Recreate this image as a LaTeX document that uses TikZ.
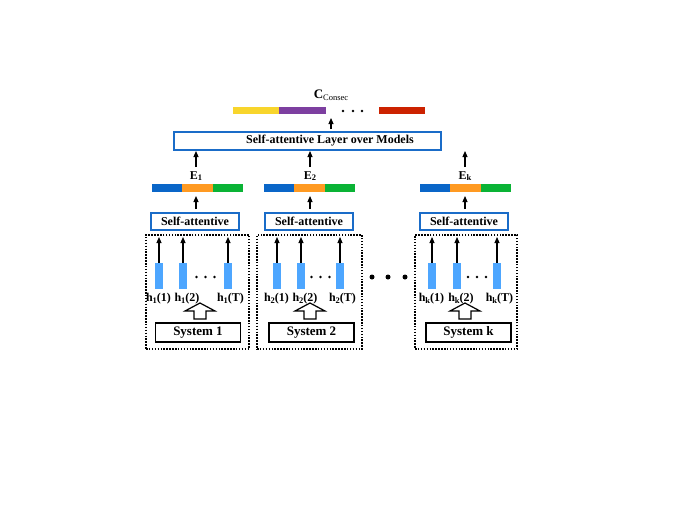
\documentclass[tikz,border=0pt]{standalone}
\usepackage{fontspec}
\setmainfont{Liberation Serif}
\usetikzlibrary{arrows.meta}
\definecolor{boxblue}{HTML}{1A6CC8}
\definecolor{segblue}{HTML}{0A66C8}
\definecolor{segorange}{HTML}{FF9A22}
\definecolor{seggreen}{HTML}{0AB335}
\definecolor{segyellow}{HTML}{F8D52C}
\definecolor{segpurple}{HTML}{7D3FA0}
\definecolor{segred}{HTML}{CC2200}
\definecolor{hblue}{HTML}{4DA6FF}
\newcommand\lsub[1]{\raisebox{-1.6pt}{\fontsize{8.5}{10}\selectfont #1}}
\begin{document}
\begin{tikzpicture}[x=1pt,y=-1pt,
  sabox/.style={draw=boxblue,line width=1.8pt,inner sep=0pt,minimum width=88pt,minimum height=17pt,font=\bfseries\fontsize{12}{14}\selectfont},
  bigbox/.style={draw=boxblue,line width=1.8pt,inner sep=0pt,minimum width=267pt,minimum height=18pt},
  sysbox/.style={draw,line width=1.1pt,inner sep=0pt,minimum width=85pt,minimum height=19pt,font=\bfseries\fontsize{13}{15}\selectfont},
  dotbox/.style={draw,line width=1.5pt,dash pattern=on 1.5pt off 1.4pt,inner sep=0pt,minimum height=114pt},
  seg/.style={inner sep=0pt,minimum width=30.3pt,minimum height=8pt},
  topseg/.style={inner sep=0pt,minimum width=46.5pt,minimum height=7pt},
  hbar/.style={fill=hblue,inner sep=0pt,minimum width=8pt,minimum height=26pt},
  hlab/.style={inner sep=0pt,font=\bfseries\fontsize{12}{14}\selectfont},
  elab/.style={inner sep=0pt,font=\bfseries\fontsize{12}{14}\selectfont},
  arr/.style={-{Triangle[length=6pt,width=5pt]},line width=1.1pt},
  hollowarr/.style={draw,line width=1.2pt,line join=miter},
  smalldot/.style={circle,fill,inner sep=0pt,minimum size=2.6pt},
  bigdot/.style={circle,fill,inner sep=0pt,minimum size=5pt}
]
\useasboundingbox (0,0) rectangle (676,507);

% top output
\node[inner sep=0pt,font=\bfseries\fontsize{13}{15}\selectfont] (C) at (331,95) {C\lsub{\mdseries\fontsize{8.5}{10}\selectfont Consec}};
\node[topseg,fill=segyellow] (ty) at (256,110.5) {};
\node[topseg,fill=segpurple] (tp) at (302.5,110.5) {};
\node[smalldot] (td1) at (343,111) {};
\node[smalldot] (td2) at (353,111) {};
\node[smalldot] (td3) at (362,111) {};
\node[topseg,fill=segred] (tr) at (402,110.5) {};

% big box
\node[bigbox] (big) at (307.5,141) {};
\node[font=\bfseries\fontsize{12}{14}\selectfont] (bigt) at (330,141) {Self-attentive Layer over Models};
\coordinate (cbot) at (331,129);
\coordinate (ctop) at (331,118);
\draw[arr] (cbot) -- (ctop);

% columns
\foreach \n/\cx/\bx/\sx/\dl/\dr/\ca/\cb/\cc/\hx/\syx/\sub/\sys in
 {1/196/197.5/195/146/249/159/183/228/200/198/1/1,
  2/310/309.5/309/257/362/277/301/340/310/311.5/2/2,
  k/465/465.5/464/415/517/432/457/497/465/468.5/k/k}{
  \node[elab] (E\n) at (\cx,176) {E\lsub{\sub}};
  \node[seg,fill=segorange] (bo\n) at (\bx,188) {};
  \node[seg,fill=segblue,anchor=east] (bb\n) at (bo\n.west) {};
  \node[seg,fill=seggreen,anchor=west] (bg\n) at (bo\n.east) {};
  \coordinate (eb\n) at (\cx,167);
  \coordinate (et\n) at (\cx,151);
  \draw[arr] (eb\n) -- (et\n);
  \node[sabox] (sa\n) at (\sx,221.5) {Self-attentive};
  \coordinate (sb\n) at (\cx,209);
  \coordinate (st\n) at (\cx,196);
  \draw[arr] (sb\n) -- (st\n);
  \node[dotbox,minimum width={\dr-\dl}] (db\n) at ({(\dl+\dr)/2},292) {};
  \node[hbar] (ha\n) at (\ca,276) {};
  \node[hbar] (hb\n) at (\cb,276) {};
  \node[hbar] (hc\n) at (\cc,276) {};
  \coordinate (ta\n) at (\ca,237);
  \coordinate (tb\n) at (\cb,237);
  \coordinate (tc\n) at (\cc,237);
  \draw[arr] (ha\n.north) -- (ta\n);
  \draw[arr] (hb\n.north) -- (tb\n);
  \draw[arr] (hc\n.north) -- (tc\n);
  \node[smalldot] (sd1\n) at ({(\cb+\cc)/2-9},277) {};
  \node[smalldot] (sd2\n) at ({(\cb+\cc)/2},277) {};
  \node[smalldot] (sd3\n) at ({(\cb+\cc)/2+9},277) {};
  \node[hlab] (la\n) at ({\ca-0.5},299) {h\lsub{\sub}(1)};
  \node[hlab] (lb\n) at ({\cb+4},299) {h\lsub{\sub}(2)};
  \node[hlab] (lc\n) at ({\cc+2.5},299) {h\lsub{\sub}(T)};
  \draw[hollowarr] ({\hx-6},319) -- ({\hx-6},311) -- ({\hx-15},311) -- (\hx,303)
     -- ({\hx+15},311) -- ({\hx+6},311) -- ({\hx+6},319) -- cycle;
  \node[sysbox] (sy\n) at (\syx,332.5) {System \sys};
}
\node[bigdot] (bd1) at (372,277) {};
\node[bigdot] (bd2) at (388,277) {};
\node[bigdot] (bd3) at (405,277) {};
\end{tikzpicture}
\end{document}
